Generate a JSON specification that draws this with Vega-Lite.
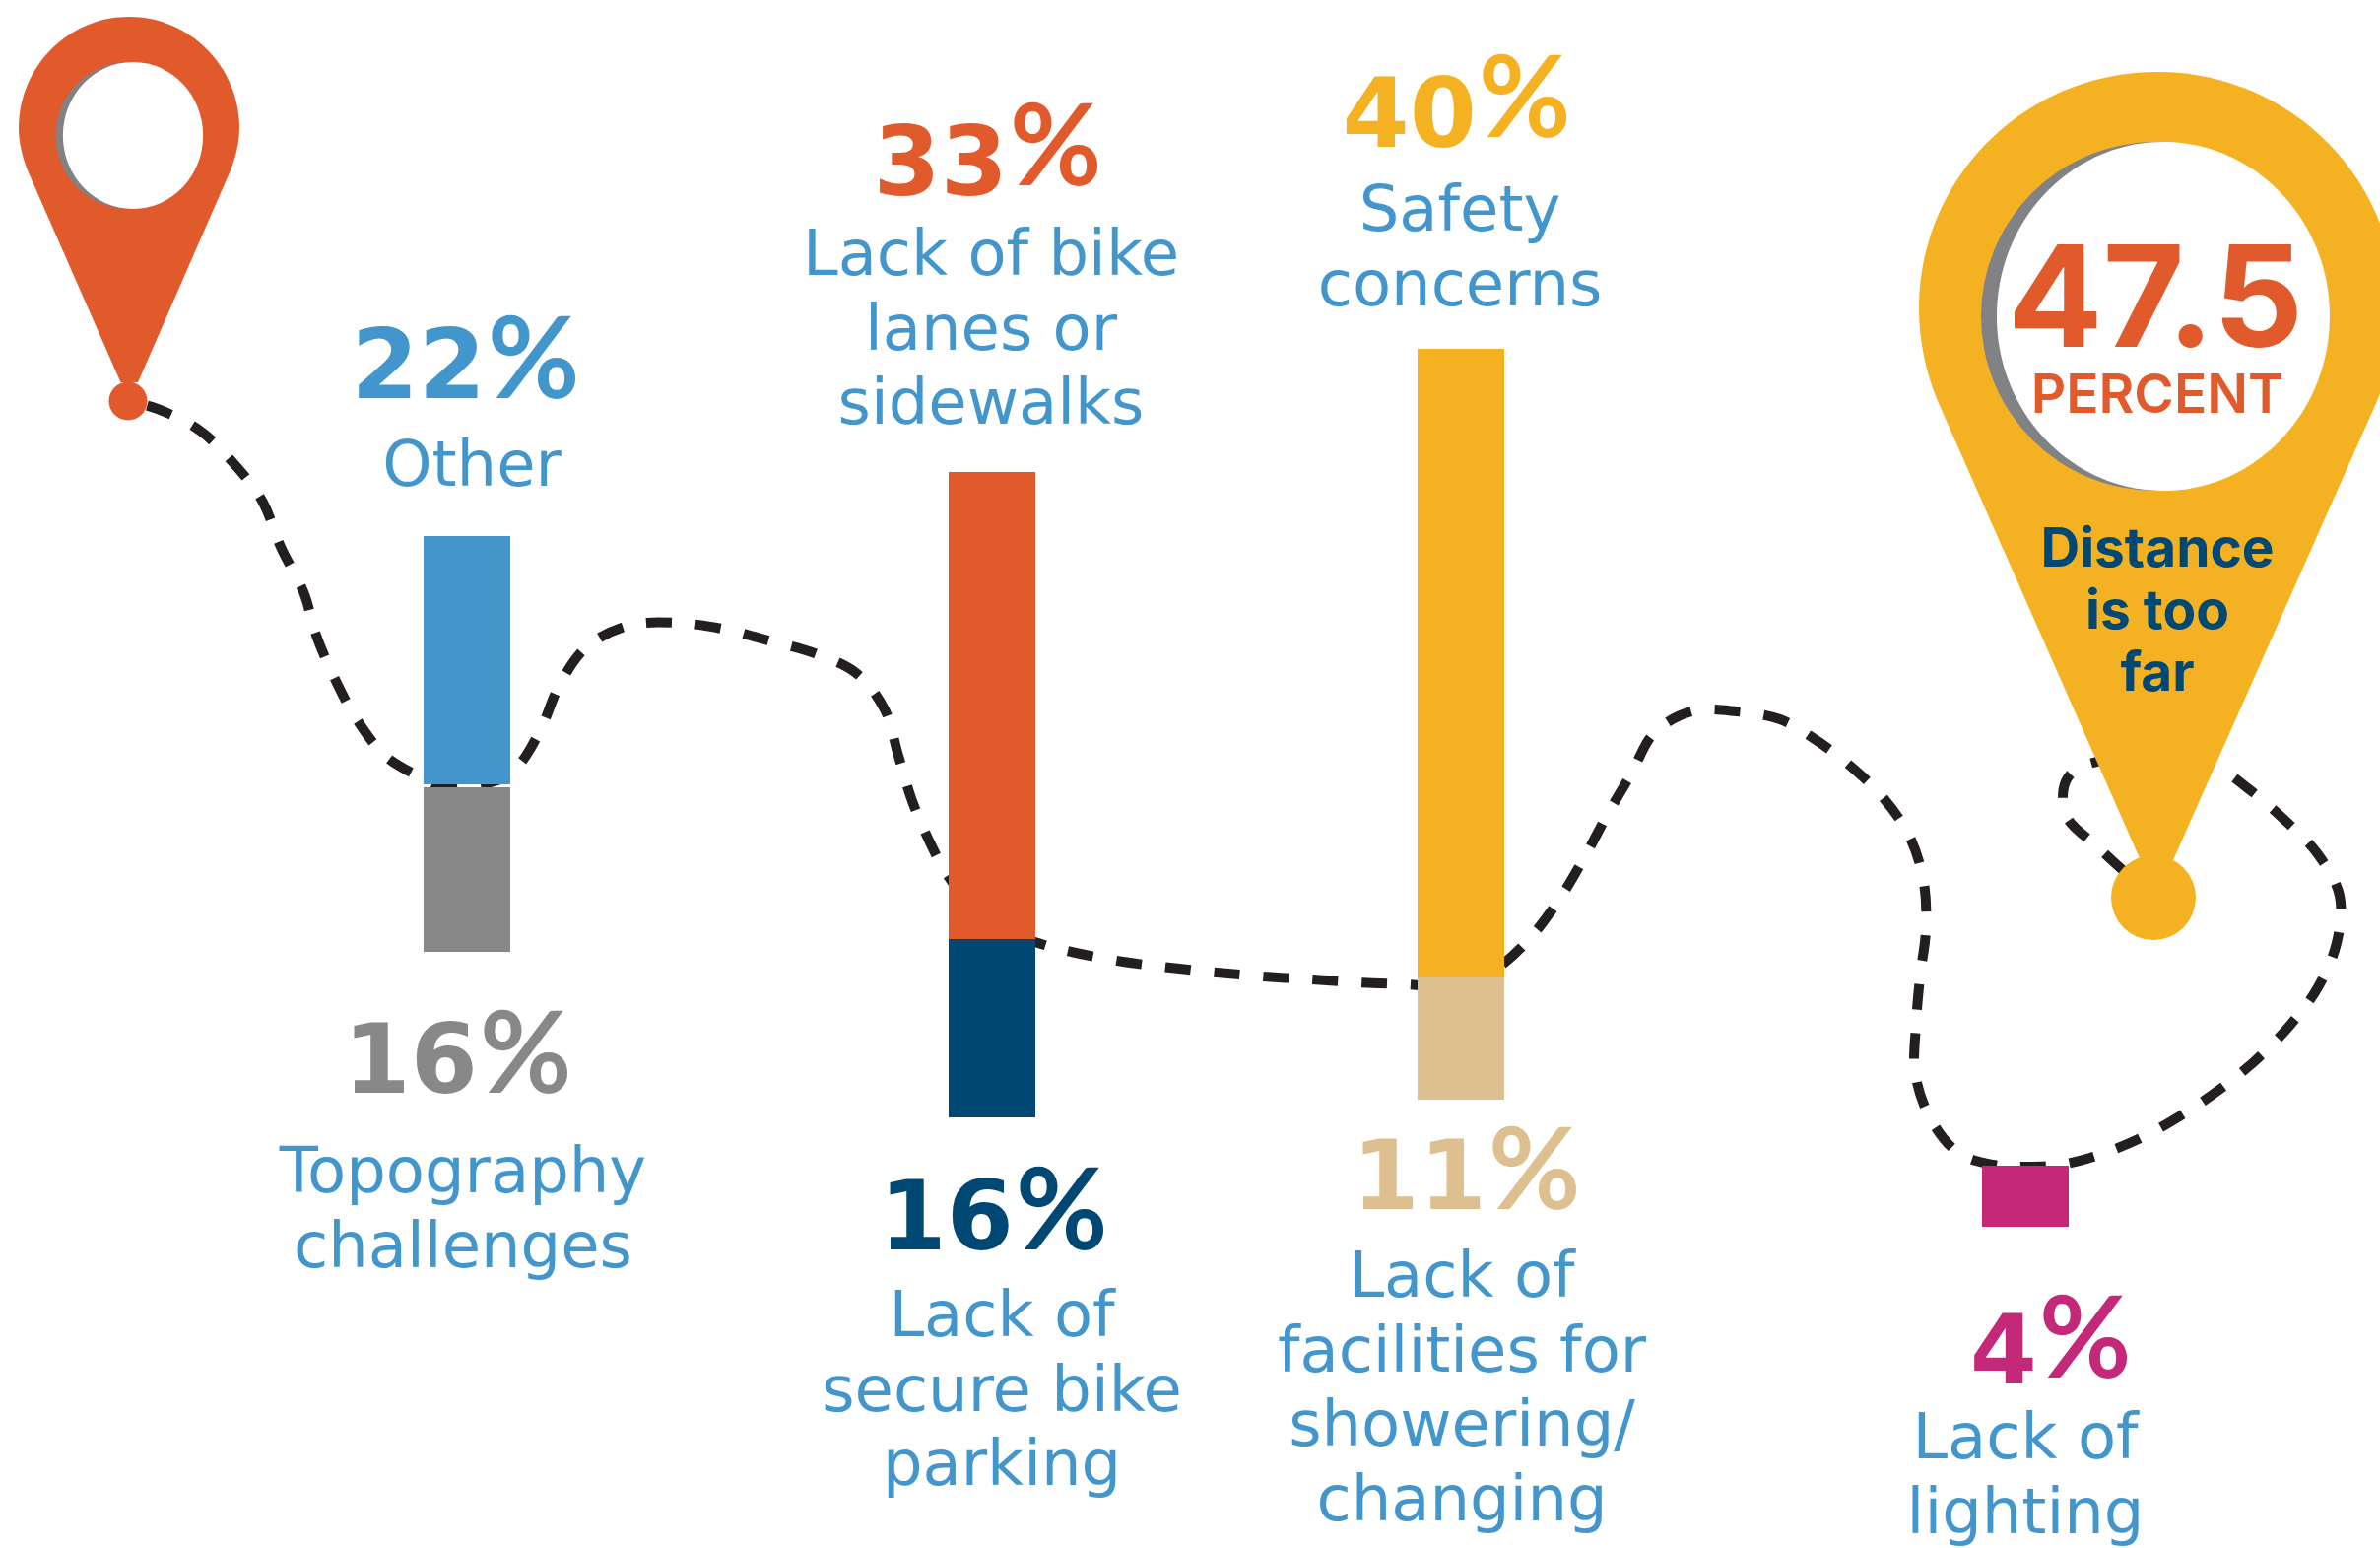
{
  "$schema": "https://vega.github.io/schema/vega-lite/v6.json",
  "width": 2416,
  "height": 1571,
  "padding": 0,
  "autosize": {"type": "none"},
  "background": "#ffffff",
  "view": {"stroke": null},
  "datasets": {
    "route": [
      {"n":1,"x":130,"y":407},{"n":2,"x":160,"y":415},{"n":3,"x":203,"y":437},{"n":4,"x":237,"y":470},{"n":5,"x":266,"y":508},{"n":6,"x":285,"y":555},{"n":7,"x":309,"y":603},{"n":8,"x":320,"y":642},{"n":9,"x":339,"y":687},{"n":10,"x":362,"y":730},{"n":11,"x":391,"y":767},{"n":12,"x":425,"y":788},{"n":13,"x":443,"y":797},{"n":14,"x":479,"y":797},{"n":15,"x":510,"y":790},{"n":16,"x":528,"y":775},{"n":17,"x":549,"y":740},{"n":18,"x":568,"y":695},{"n":19,"x":595,"y":657},{"n":20,"x":637,"y":635},{"n":21,"x":686,"y":632},{"n":22,"x":733,"y":638},{"n":23,"x":780,"y":650},{"n":24,"x":827,"y":663},{"n":25,"x":869,"y":683},{"n":26,"x":898,"y":720},{"n":27,"x":912,"y":767},{"n":28,"x":926,"y":813},{"n":29,"x":945,"y":857},{"n":30,"x":963,"y":890},{"n":31,"x":1000,"y":935},{"n":32,"x":1054,"y":957},{"n":33,"x":1092,"y":967},{"n":34,"x":1140,"y":976},{"n":35,"x":1188,"y":982},{"n":36,"x":1235,"y":987},{"n":37,"x":1283,"y":991},{"n":38,"x":1332,"y":994},{"n":39,"x":1379,"y":997},{"n":40,"x":1427,"y":999},{"n":41,"x":1490,"y":1000},{"n":42,"x":1526,"y":978},{"n":43,"x":1555,"y":950},{"n":44,"x":1584,"y":911},{"n":45,"x":1609,"y":869},{"n":46,"x":1631,"y":828},{"n":47,"x":1656,"y":785},{"n":48,"x":1679,"y":744},{"n":49,"x":1717,"y":722},{"n":50,"x":1763,"y":722},{"n":51,"x":1807,"y":730},{"n":52,"x":1839,"y":748},{"n":53,"x":1878,"y":777},{"n":54,"x":1912,"y":810},{"n":55,"x":1939,"y":850},{"n":56,"x":1953,"y":896},{"n":57,"x":1955,"y":944},{"n":58,"x":1949,"y":992},{"n":59,"x":1945,"y":1040},{"n":60,"x":1944,"y":1088},{"n":61,"x":1959,"y":1134},{"n":62,"x":1988,"y":1170},{"n":63,"x":2023,"y":1182},{"n":64,"x":2057,"y":1184},{"n":65,"x":2092,"y":1182},{"n":66,"x":2128,"y":1173},{"n":67,"x":2173,"y":1155},{"n":68,"x":2214,"y":1132},{"n":69,"x":2254,"y":1105},{"n":70,"x":2292,"y":1074},{"n":71,"x":2325,"y":1040},{"n":72,"x":2353,"y":1002},{"n":73,"x":2372,"y":957},{"n":74,"x":2375,"y":909},{"n":75,"x":2353,"y":867},{"n":76,"x":2319,"y":832},{"n":77,"x":2283,"y":801},{"n":78,"x":2250,"y":779},{"n":79,"x":2180,"y":768},{"n":80,"x":2113,"y":778},{"n":81,"x":2097,"y":793},{"n":82,"x":2097,"y":827},{"n":83,"x":2132,"y":862},{"n":84,"x":2186,"y":911}
    ],
    "reasons": [
      {"reason":"Other","share":22,"left":430,"right":518,"top":544,"bottom":796,"pct_x":493,"digit_y":404,"sign_y":404,"name_x":479,"name_y":493,"name":"Other"},
      {"reason":"Topography challenges","share":16,"left":430,"right":518,"top":799,"bottom":966,"pct_x":485,"digit_y":1109,"sign_y":1109,"name_x":470,"name_y":1210,"name":"Topography\nchallenges"},
      {"reason":"Lack of bike lanes or sidewalks","share":33,"left":963,"right":1051,"top":479,"bottom":953,"pct_x":1023,"digit_y":198,"sign_y":188,"name_x":1006,"name_y":279,"name":"Lack of bike\nlanes or\nsidewalks"},
      {"reason":"Lack of secure bike parking","share":16,"left":963,"right":1051,"top":953,"bottom":1134,"pct_x":1029,"digit_y":1268,"sign_y":1268,"name_x":1017,"name_y":1356,"name":"Lack of\nsecure bike\nparking"},
      {"reason":"Safety concerns","share":40,"left":1439,"right":1527,"top":354,"bottom":992,"pct_x":1499,"digit_y":149,"sign_y":139,"name_x":1482,"name_y":234,"name":"Safety\nconcerns"},
      {"reason":"Lack of facilities for showering/changing","share":11,"left":1439,"right":1527,"top":992,"bottom":1116,"pct_x":1509,"digit_y":1227,"sign_y":1227,"name_x":1484,"name_y":1316,"name":"Lack of\nfacilities for\nshowering/\nchanging"},
      {"reason":"Lack of lighting","share":4,"left":2012,"right":2100,"top":1183,"bottom":1245,"pct_x":2068,"digit_y":1404,"sign_y":1398,"name_x":2056,"name_y":1480,"name":"Lack of\nlighting"}
    ]
  },
  "encoding": {
    "x": {"type": "quantitative", "scale": {"domain": [0, 2416], "nice": false, "zero": false}, "axis": null},
    "y": {"type": "quantitative", "scale": {"domain": [1571, 0], "nice": false, "zero": false}, "axis": null}
  },
  "layer": [
    {
      "data": {"name": "route"},
      "mark": {"type": "line", "interpolate": "catmull-rom", "stroke": "#231f20", "strokeWidth": 10, "strokeDash": [26, 24], "strokeDashOffset": 30},
      "encoding": {
        "x": {"field": "x", "type": "quantitative"},
        "y": {"field": "y", "type": "quantitative"},
        "order": {"field": "n", "type": "quantitative"}
      }
    },
    {
      "data": {"name": "reasons"},
      "mark": {"type": "rect"},
      "encoding": {
        "x": {"field": "left", "type": "quantitative"},
        "x2": {"field": "right"},
        "y": {"field": "top", "type": "quantitative"},
        "y2": {"field": "bottom"},
        "color": {
          "field": "reason", "type": "nominal", "legend": null,
          "scale": {
            "domain": ["Other","Topography challenges","Lack of bike lanes or sidewalks","Lack of secure bike parking","Safety concerns","Lack of facilities for showering/changing","Lack of lighting"],
            "range": ["#4296cc","#888888","#e05a2b","#004874","#f4b223","#dec090","#c42878"]
          }
        }
      }
    },
    {
      "data": {"values": [{"pin":"start","x":131,"y":220}]},
      "mark": {"type": "point", "filled": true, "opacity": 1, "fill": "#e05a2b", "strokeWidth": 0, "size": 250000,
        "shape": "M0,-.812 C-.248,-.812 -.448,-.608 -.448,-.36 C-.448,-.3 -.432,-.24 -.412,-.188 L-.034,.672 L.036,.672 L.412,-.188 C.432,-.24 .448,-.3 .448,-.36 C.448,-.608 .248,-.812 0,-.812Z"},
      "encoding": {"x": {"field": "x", "type": "quantitative"}, "y": {"field": "y", "type": "quantitative"}}
    },
    {
      "data": {"values": [{"pin":"start","x":130,"y":407}]},
      "mark": {"type": "point", "filled": true, "opacity": 1, "fill": "#e05a2b", "strokeWidth": 0, "shape": "circle", "size": 1521},
      "encoding": {"x": {"field": "x", "type": "quantitative"}, "y": {"field": "y", "type": "quantitative"}}
    },
    {
      "data": {"values": [{"pin":"start","x":131,"y":137.5}]},
      "mark": {"type": "point", "filled": true, "opacity": 1, "fill": "#808285", "strokeWidth": 0, "shape": "circle", "size": 22201},
      "encoding": {"x": {"field": "x", "type": "quantitative"}, "y": {"field": "y", "type": "quantitative"}}
    },
    {
      "data": {"values": [{"pin":"start","x":135,"y":137.5}]},
      "mark": {"type": "point", "filled": true, "opacity": 1, "fill": "#ffffff", "strokeWidth": 0, "size": 22201,
        "shape": "M0,-1 C.526,-1 .955,-.552 .955,0 C.955,.552 .526,1 0,1 C-.526,1 -.955,.552 -.955,0 C-.955,-.552 -.526,-1 0,-1Z"},
      "encoding": {"x": {"field": "x", "type": "quantitative"}, "y": {"field": "y", "type": "quantitative"}}
    },
    {
      "data": {"values": [{"pin":"finish","x":2190,"y":500}]},
      "mark": {"type": "point", "clip": true, "filled": true, "opacity": 1, "fill": "#f4b223", "strokeWidth": 0, "size": 1000000,
        "shape": "M0,-.854 C-.268,-.854 -.484,-.64 -.484,-.374 C-.484,-.308 -.47,-.244 -.446,-.186 L-.036,.742 L.032,.746 L.446,-.186 C.47,-.244 .484,-.308 .484,-.374 C.484,-.64 .268,-.854 0,-.854Z"},
      "encoding": {"x": {"field": "x", "type": "quantitative"}, "y": {"field": "y", "type": "quantitative"}}
    },
    {
      "data": {"values": [{"pin":"finish","x":2186,"y":911}]},
      "mark": {"type": "point", "filled": true, "opacity": 1, "fill": "#f4b223", "strokeWidth": 0, "shape": "circle", "size": 7396},
      "encoding": {"x": {"field": "x", "type": "quantitative"}, "y": {"field": "y", "type": "quantitative"}}
    },
    {
      "data": {"values": [{"pin":"finish","x":2188,"y":321}]},
      "mark": {"type": "point", "filled": true, "opacity": 1, "fill": "#808285", "strokeWidth": 0, "shape": "circle", "size": 125316},
      "encoding": {"x": {"field": "x", "type": "quantitative"}, "y": {"field": "y", "type": "quantitative"}}
    },
    {
      "data": {"values": [{"pin":"finish","x":2196,"y":321}]},
      "mark": {"type": "point", "filled": true, "opacity": 1, "fill": "#ffffff", "strokeWidth": 0, "size": 125316,
        "shape": "M0,-1 C.526,-1 .955,-.552 .955,0 C.955,.552 .526,1 0,1 C-.526,1 -.955,.552 -.955,0 C-.955,-.552 -.526,-1 0,-1Z"},
      "encoding": {"x": {"field": "x", "type": "quantitative"}, "y": {"field": "y", "type": "quantitative"}}
    },
    {
      "data": {"name": "reasons"},
      "mark": {"type": "text", "font": "DejaVu Sans", "fontWeight": "bold", "fontSize": 98, "align": "right", "baseline": "alphabetic"},
      "encoding": {
        "x": {"field": "pct_x", "type": "quantitative"},
        "y": {"field": "digit_y", "type": "quantitative"},
        "text": {"field": "share", "type": "quantitative", "format": "d"},
        "color": {"field": "reason", "type": "nominal", "legend": null}
      }
    },
    {
      "data": {"name": "reasons"},
      "mark": {"type": "text", "font": "Lato", "fontWeight": 700, "fontSize": 114, "align": "left", "baseline": "alphabetic", "text": "%", "dx": 2},
      "encoding": {
        "x": {"field": "pct_x", "type": "quantitative"},
        "y": {"field": "sign_y", "type": "quantitative"},
        "color": {"field": "reason", "type": "nominal", "legend": null}
      }
    },
    {
      "data": {"name": "reasons"},
      "mark": {"type": "text", "font": "DejaVu Sans", "fontWeight": 400, "fontSize": 64, "align": "center", "baseline": "alphabetic", "lineBreak": "\n", "lineHeight": 75.5, "fill": "#4296cc"},
      "encoding": {
        "x": {"field": "name_x", "type": "quantitative"},
        "y": {"field": "name_y", "type": "quantitative"},
        "text": {"field": "name", "type": "nominal"}
      }
    },
    {
      "data": {"values": [{"line":"47.5","x":2188,"y":352}]},
      "mark": {"type": "text", "font": "Inter", "fontWeight": 700, "fontSize": 143, "align": "center", "baseline": "alphabetic", "fill": "#e05a2b"},
      "encoding": {"x": {"field": "x", "type": "quantitative"}, "y": {"field": "y", "type": "quantitative"}, "text": {"field": "line", "type": "nominal"}}
    },
    {
      "data": {"values": [{"line":"PERCENT","x":2190,"y":419}]},
      "mark": {"type": "text", "font": "Inter", "fontWeight": 600, "fontSize": 55, "align": "center", "baseline": "alphabetic", "fill": "#e05a2b"},
      "encoding": {"x": {"field": "x", "type": "quantitative"}, "y": {"field": "y", "type": "quantitative"}, "text": {"field": "line", "type": "nominal"}}
    },
    {
      "data": {"values": [{"line":"Distance\nis too\nfar","x":2190,"y":575}]},
      "mark": {"type": "text", "font": "Inter", "fontWeight": 700, "fontSize": 55, "align": "center", "baseline": "alphabetic", "lineBreak": "\n", "lineHeight": 63, "fill": "#004874"},
      "encoding": {"x": {"field": "x", "type": "quantitative"}, "y": {"field": "y", "type": "quantitative"}, "text": {"field": "line", "type": "nominal"}}
    }
  ]
}
